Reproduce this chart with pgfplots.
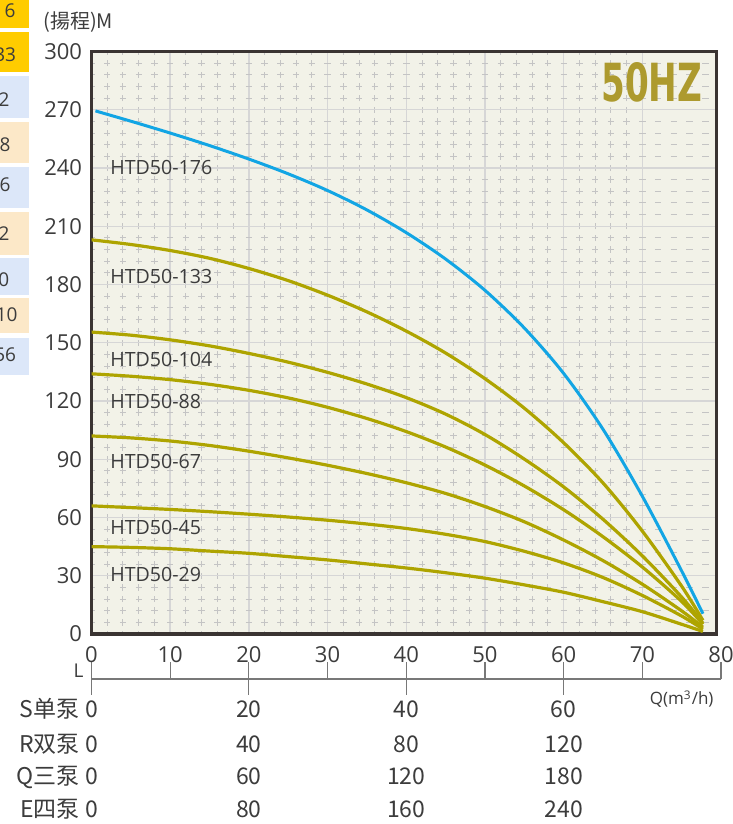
\documentclass[border=0pt]{standalone}
\usepackage{graphicx}
\usepackage{pgfplots}
\pgfplotsset{compat=1.18}
\usepackage{fontspec}
\setmainfont{Open Sans}
\newfontfamily\cjk{Noto Sans CJK SC}
\newfontfamily\hzfont{DejaVu Sans}
\definecolor{bg}{RGB}{242,242,232}
\definecolor{framec}{RGB}{58,52,50}
\definecolor{blueline}{RGB}{18,165,228}
\definecolor{olive}{RGB}{174,164,0}
\definecolor{hz}{RGB}{173,154,46}
\definecolor{txt}{RGB}{60,60,60}
\definecolor{gold}{RGB}{255,204,0}
\definecolor{lblue}{RGB}{220,231,249}
\definecolor{peach}{RGB}{252,232,200}
\definecolor{majg}{RGB}{214,214,214}
\definecolor{ming}{RGB}{196,196,196}
\definecolor{scaleg}{RGB}{120,120,120}
\begin{document}
\begin{tikzpicture}
% cropped table cells at the left edge
\fill[gold]  (0,398pt) rectangle (14.5pt,412pt);
\fill[gold]  (0,376pt) rectangle (14.5pt,396pt);
\fill[lblue] (0,353pt) rectangle (14.5pt,374pt);
\fill[peach] (0,330.5pt) rectangle (14.5pt,351pt);
\fill[lblue] (0,308pt) rectangle (14.5pt,328.5pt);
\fill[peach] (0,284.5pt) rectangle (14.5pt,306pt);
\fill[lblue] (0,264.5pt) rectangle (14.5pt,283pt);
\fill[peach] (0,245.5pt) rectangle (14.5pt,263pt);
\fill[lblue] (0,224.5pt) rectangle (14.5pt,243pt);
\begin{scope}[every node/.style={anchor=east, inner sep=0pt, text=txt, font=\fontsize{9.5}{11}\selectfont}]
\node at (8pt,406.75pt) {6};
\node at (8.2pt,384.75pt) {33};
\node at (5pt,362pt) {2};
\node at (5.5pt,339.75pt) {8};
\node at (5.5pt,319.75pt) {6};
\node at (5pt,295.25pt) {2};
\node at (4.8pt,272.25pt) {0};
\node at (9pt,254.75pt) {10};
\node at (8.2pt,234.75pt) {56};
\end{scope}

\begin{axis}[
  at={(45.75pt,95pt)}, anchor=south west,
  scale only axis, width=312.6pt, height=291.25pt,
  xmin=0, xmax=79.45, ymin=0, ymax=300,
  xtick={0,10,...,70}, xticklabels={},
  ytick={0,30,...,300},
  minor x tick num=4, minor y tick num=4,
  grid=both,
  major grid style={majg, line width=0.7pt},
  minor x grid style={ming, line width=0.5pt, dash pattern=on 3.2pt off 2.625pt, dash phase=1.6pt},
  minor y grid style={ming, line width=0.5pt, dash pattern=on 3.2pt off 4.67pt, dash phase=1.6pt},
  major tick length=0pt, minor tick length=0pt,
  axis line style={framec, line width=1.75pt},
  axis background/.style={fill=bg},
  yticklabel style={font=\fontsize{11}{12}\selectfont, text=txt, xshift=-1.2pt},
  /pgf/number format/assume math mode=true,
  clip mode=individual,
]
% HTD50-176
\addplot[blueline, line width=1.5pt, smooth] coordinates {
(0.5,269.4)(5,264.1)(10,258.0)(15,251.55)(20,244.6)(25,237.0)(30,228.4)(35,218.4)(40,206.7)(45,193.1)(50,177.0)(55,157.6)(60,134.2)(65,105.45)(70,70.95)(75,32.45)(77.7,10.45)};
% HTD50-133
\addplot[olive, line width=1.6pt, smooth] coordinates {
(0,203)(5,200.6)(10,197.5)(15,193.5)(20,188.25)(25,182)(30,174.5)(35,165.9)(40,156)(45,144.7)(50,131.5)(55,116.3)(60,98.5)(65,77.8)(70,53)(75,24.6)(77.7,7)};
% HTD50-104
\addplot[olive, line width=1.6pt, smooth] coordinates {
(0,155.5)(5,153.9)(10,151.5)(15,148.4)(20,144.5)(25,140)(30,134.75)(35,128.75)(40,121.75)(45,113.25)(50,102.75)(55,90.1)(60,75.75)(65,59.1)(70,40.25)(75,19)(77.7,5.6)};
% HTD50-88
\addplot[olive, line width=1.6pt, smooth] coordinates {
(0,134)(5,132.75)(10,131)(15,128.6)(20,125.5)(25,121.6)(30,116.75)(35,111)(40,104.25)(45,96.3)(50,87)(55,76.25)(60,64)(65,50.1)(70,34.5)(75,16.75)(77.7,5)};
% HTD50-67
\addplot[olive, line width=1.6pt, smooth] coordinates {
(0,102)(5,101)(10,99.4)(15,97.1)(20,94.15)(25,90.7)(30,86.9)(35,82.65)(40,77.9)(45,72.4)(50,65.65)(55,57.8)(60,48.4)(65,37.8)(70,25.65)(75,11.9)(77.7,3.5)};
% HTD50-45
\addplot[olive, line width=1.6pt, smooth] coordinates {
(0,66)(5,65.1)(10,64.15)(15,63)(20,61.7)(25,60.25)(30,58.6)(35,56.65)(40,54.35)(45,51.35)(50,47.6)(55,42.6)(60,36.6)(65,29.1)(70,19.85)(75,9.25)(77.7,2.5)};
% HTD50-29
\addplot[olive, line width=1.6pt, smooth] coordinates {
(0,45)(5,44.6)(10,43.9)(15,42.7)(20,41.55)(25,39.85)(30,38.15)(35,36.1)(40,34)(45,31.55)(50,28.75)(55,25.3)(60,21.5)(65,16.65)(70,11.5)(75,5)(77.7,1.3)};

% curve labels
\begin{scope}[every node/.style={anchor=west, inner sep=0pt, text=txt, font=\fontsize{9.8}{11}\selectfont}]
\node at (axis cs:2.35,240.5) {HTD50-176};
\node at (axis cs:2.35,184.3) {HTD50-133};
\node at (axis cs:2.35,141.6) {HTD50-104};
\node at (axis cs:2.35,120.0) {HTD50-88};
\node at (axis cs:2.35,89.1) {HTD50-67};
\node at (axis cs:2.35,54.6) {HTD50-45};
\node at (axis cs:2.35,30.9) {HTD50-29};
\end{scope}

\node[inner sep=0pt, text=hz] at (axis cs:71.2,284.2) {\resizebox{50.5pt}{19.5pt}{\hzfont\bfseries 50HZ}};

% y label
\node[anchor=base west, inner sep=0pt, text=txt, font=\cjk\fontsize{10}{12}\selectfont] at (axis cs:-6.16,312) {(揚程)M};

% L scale
\draw[scaleg, line width=0.6pt] (axis cs:0,-23.17) -- (axis cs:80,-23.17);
\pgfplotsinvokeforeach{10,30,50,70,80}{
  \draw[scaleg, line width=0.6pt] (axis cs:#1,-23.17) -- (axis cs:#1,-14.42);
}
\pgfplotsinvokeforeach{0,20,40,60}{
  \draw[scaleg, line width=0.6pt] (axis cs:#1,-14.42) -- (axis cs:#1,-31.41);
}
\pgfplotsinvokeforeach{0,10,20,30,40,50,60,70,80}{
  \node[anchor=base, inner sep=0pt, text=txt, font=\fontsize{11}{13}\selectfont] at (axis cs:#1,-14.93) {#1};
}
\node[anchor=base, inner sep=0pt, text=txt, font=\fontsize{9.5}{11}\selectfont] at (axis cs:-1.65,-22.66) {L};
\node[anchor=base, inner sep=0pt, text=txt, font=\fontsize{8.5}{10}\selectfont] at (axis cs:75,-36.56) {Q(m\textsuperscript{3}/h)};

% pump rows
\begin{scope}[every node/.style={inner sep=0pt, text=txt, font=\cjk\fontsize{11.5}{13}\selectfont}]
\node[anchor=base east] at (axis cs:-1.46,-43.25) {S单泵};
\node[anchor=base east] at (axis cs:-1.46,-61.28) {R双泵};
\node[anchor=base east] at (axis cs:-1.46,-77.75) {Q三泵};
\node[anchor=base east] at (axis cs:-1.46,-94.75) {E四泵};
\node[anchor=base] at (axis cs:0,-43.25) {0};
\node[anchor=base] at (axis cs:20,-43.25) {20};
\node[anchor=base] at (axis cs:40,-43.25) {40};
\node[anchor=base] at (axis cs:60,-43.25) {60};
\node[anchor=base] at (axis cs:0,-61.28) {0};
\node[anchor=base] at (axis cs:20,-61.28) {40};
\node[anchor=base] at (axis cs:40,-61.28) {80};
\node[anchor=base] at (axis cs:60,-61.28) {120};
\node[anchor=base] at (axis cs:0,-77.75) {0};
\node[anchor=base] at (axis cs:20,-77.75) {60};
\node[anchor=base] at (axis cs:40,-77.75) {120};
\node[anchor=base] at (axis cs:60,-77.75) {180};
\node[anchor=base] at (axis cs:0,-94.75) {0};
\node[anchor=base] at (axis cs:20,-94.75) {80};
\node[anchor=base] at (axis cs:40,-94.75) {160};
\node[anchor=base] at (axis cs:60,-94.75) {240};
\end{scope}
\end{axis}
\pgfresetboundingbox
\path[use as bounding box] (0,0) rectangle (366.5pt,412pt);
\end{tikzpicture}
\end{document}
